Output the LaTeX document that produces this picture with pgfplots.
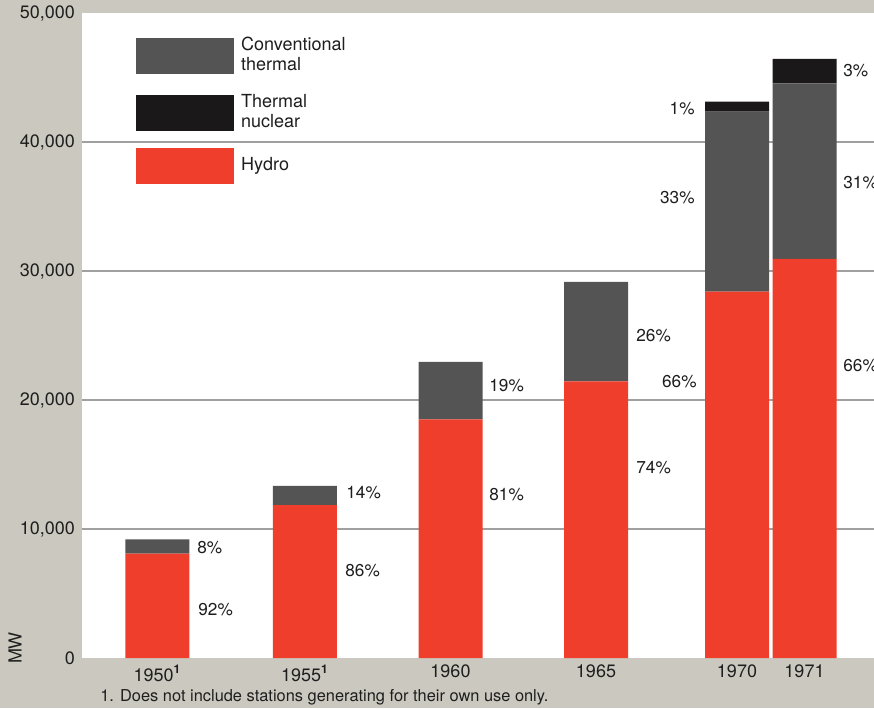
\documentclass[border=0pt]{standalone}
\usepackage{fontspec}
\setmainfont{TeX Gyre Heros}
\usepackage{pgfplots}
\pgfplotsset{compat=1.18}
\definecolor{hydro}{RGB}{240,62,44}
\definecolor{conv}{RGB}{84,84,84}
\definecolor{nuc}{RGB}{26,24,24}
\definecolor{bg}{RGB}{203,201,191}
\definecolor{gridc}{RGB}{160,160,160}
\definecolor{txt}{RGB}{30,30,30}
\tikzset{pct/.style={font=\fontsize{8.6}{10}\selectfont, text=txt, inner sep=0pt}}
\begin{document}
\begin{tikzpicture}
\path[use as bounding box] (-41pt,-25pt) rectangle (396pt,329pt);
\clip (-41pt,-25pt) rectangle (396pt,329pt);
\fill[bg] (-41pt,-25pt) rectangle (396pt,329pt);
\begin{axis}[
  at={(0pt,0pt)}, anchor=south west,
  width=396pt, height=322.5pt, scale only axis,
  xmin=82, xmax=874, ymin=0, ymax=50000,
  axis background/.style={fill=white},
  axis line style={draw=none},
  major tick length=0pt,
  ybar stacked, bar width=64,
  xtick={157.5,305,450.5,596,737,804.5},
  xticklabels={1950\textsuperscript{\textbf{1}},1955\textsuperscript{\textbf{1}},1960,1965,1970,1971},
  ytick={10000,20000,30000,40000},
  extra y ticks={0,50000},
  extra y tick style={grid=none},
  ymajorgrids, grid style={gridc, line width=0.75pt},
  scaled y ticks=false,
  /pgf/number format/1000 sep={,},
  /pgf/number format/assume math mode=true,
  tick label style={font=\fontsize{9}{10}\selectfont, text=txt},
  legend style={at={(axis cs:136,48450)}, anchor=north west, draw=none, fill=none,
    inner sep=0pt, font=\fontsize{9}{10}\selectfont, text=txt,
    cells={anchor=west, align=left}, row sep=6.5pt,
    /tikz/every odd column/.style={column sep=1.5pt}},
  clip=false,
]
\addlegendimage{legend image code/.code={\fill[conv] (0pt,-8.75pt) rectangle (48.5pt,8.75pt);}}
\addlegendentry{Conventional\\thermal}
\addlegendimage{legend image code/.code={\fill[nuc] (0pt,-8.75pt) rectangle (48.5pt,8.75pt);}}
\addlegendentry{Thermal\\nuclear}
\addlegendimage{legend image code/.code={\fill[hydro] (0pt,-8.75pt) rectangle (48.5pt,8.75pt);}}
\addlegendentry{Hydro}

\addplot[forget plot, fill=hydro, draw=none] coordinates {(157.5,8100) (305,11850) (450.5,18500) (596,21450) (737,28400) (804.5,30950)};
\addplot[forget plot, fill=conv, draw=none] coordinates {(157.5,1100) (305,1500) (450.5,4450) (596,7700) (737,13950) (804.5,13600)};
\addplot[forget plot, fill=nuc, draw=none] coordinates {(157.5,0) (305,0) (450.5,0) (596,0) (737,775) (804.5,1900)};

\node[pct, anchor=west] at (axis cs:197,8527) {8\%};
\node[pct, anchor=west] at (axis cs:198,3721) {92\%};
\node[pct, anchor=west] at (axis cs:346,12791) {14\%};
\node[pct, anchor=west] at (axis cs:345,6767) {86\%};
\node[pct, anchor=west] at (axis cs:489,21085) {19\%};
\node[pct, anchor=west] at (axis cs:489,12636) {81\%};
\node[pct, anchor=west] at (axis cs:636,24961) {26\%};
\node[pct, anchor=west] at (axis cs:636,14729) {74\%};
\node[pct, anchor=east] at (axis cs:695,42558) {1\%};
\node[pct, anchor=east] at (axis cs:695,35659) {33\%};
\node[pct, anchor=east] at (axis cs:697,21395) {66\%};
\node[pct, anchor=west] at (axis cs:843,45527) {3\%};
\node[pct, anchor=west] at (axis cs:843,36822) {31\%};
\node[pct, anchor=west] at (axis cs:843,22636) {66\%};

\node[rotate=90, font=\fontsize{9}{10}\selectfont, text=txt] at (axis description cs:-0.0846,0.0155) {MW};
\node[anchor=west, font=\fontsize{8.2}{10}\selectfont, text=txt, inner sep=0pt] at (axis description cs:0.0227,-0.0605) {1. Does not include stations generating for their own use only.};
\end{axis}
\end{tikzpicture}
\end{document}
